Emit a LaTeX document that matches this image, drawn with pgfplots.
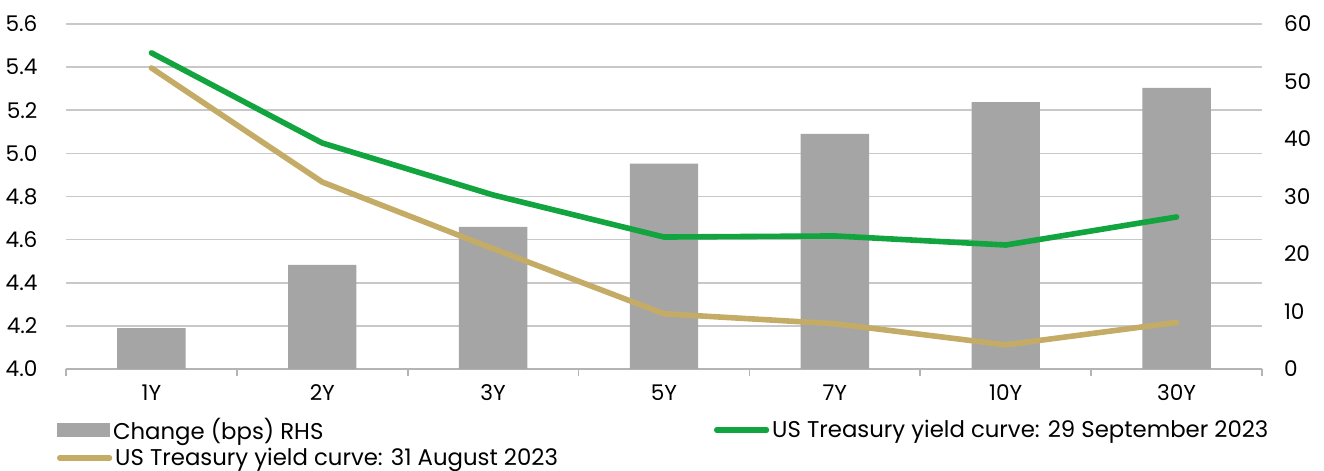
\documentclass[border=0pt]{standalone}
\usepackage{fontspec}
\setmainfont{Poppins}
\usepackage{pgfplots}
\pgfplotsset{compat=1.18}
\definecolor{barg}{HTML}{A5A5A5}
\definecolor{grn}{HTML}{12A43E}
\definecolor{tan}{HTML}{C4AC67}
\definecolor{gridc}{HTML}{C8C8C8}
\definecolor{axc}{HTML}{B4B4B4}
\pgfplotsset{
  common/.style={
    scale only axis, width=598pt, height=172.5pt,
    xmin=-0.5, xmax=6.5,
    tick label style={font=\fontsize{10.8}{12}\selectfont, text=black},
    /pgf/number format/assume math mode=true,
    legend style={draw=none, fill=none, inner sep=0pt, outer sep=0pt,
      font=\fontsize{11.4}{13}\selectfont,
      nodes={inner sep=1.5pt}},
    legend cell align=left,
  },
  linelegend/.style={legend image code/.code={\draw[line width=2.6pt, line cap=round,##1] (0pt,0pt) -- (25pt,0pt);}},
}
\begin{document}
\begin{tikzpicture}
% axis 1: left axis, grid, x axis
\begin{axis}[common,
  ymin=4, ymax=5.6,
  ytick={4.0,4.2,4.4,4.6,4.8,5.0,5.2,5.4,5.6},
  yticklabel style={/pgf/number format/.cd, fixed, fixed zerofill, precision=1, /tikz/.cd, xshift=-6.5pt},
  ymajorgrids, major grid style={gridc, line width=0.8pt},
  axis x line*=bottom, axis y line*=left,
  y axis line style={draw=none}, ytick style={draw=none},
  x axis line style={axc, line width=0.8pt},
  xtick={0,1,2,3,4,5,6},
  xticklabels={1Y,2Y,3Y,5Y,7Y,10Y,30Y},
  major x tick style={draw=none},
  minor xtick={-0.5,0.5,1.5,2.5,3.5,4.5,5.5,6.5},
  minor x tick style={axc, line width=0.8pt},
  tick align=outside, minor tick length=3.5pt,
  legend style={at={(-0.0075,-0.258)}, anchor=west},
]
\coordinate (o) at (rel axis cs:0,0);
\addlegendimage{linelegend, tan}
\addlegendentry{US Treasury yield curve: 31 August 2023}
\end{axis}
% axis 2: bars on right axis
\begin{axis}[common,
  ymin=0, ymax=60,
  ytick={0,10,20,30,40,50,60},
  axis y line*=right, axis x line=none,
  y axis line style={draw=none}, ytick style={draw=none},
  yticklabel style={xshift=7.5pt},
  xtick=\empty,
  legend style={at={(-0.0075,-0.1768)}, anchor=west},
  legend image code/.code={\fill[barg] (0pt,-3.5pt) rectangle (26.5pt,3.5pt);},
]
\addplot[ybar, bar width=34.2pt, fill=barg, draw=none] coordinates {
(0,7.1) (1,18.1) (2,24.7) (3,35.7) (4,40.9) (5,46.4) (6,48.9)};
\addlegendentry{Change (bps) RHS}
\end{axis}
% axis 3: lines on left scale
\begin{axis}[common,
  ymin=4, ymax=5.6, hide axis,
  legend style={at={(0.5418,-0.1768)}, anchor=west},
]
\addplot[grn, line width=2.8pt, line join=round, line cap=round, linelegend] coordinates {
(0,5.466) (1,5.048) (2,4.807) (3,4.612) (4,4.617) (5,4.575) (6,4.705)};
\addlegendentry{US Treasury yield curve: 29 September 2023}
\addplot[tan, line width=2.8pt, line join=round, line cap=round, forget plot] coordinates {
(0,5.396) (1,4.867) (2,4.558) (3,4.256) (4,4.210) (5,4.112) (6,4.216)};
\end{axis}
\pgfresetboundingbox
\path[use as bounding box] ([shift={(-33pt,-51pt)}]o) rectangle ([shift={(629pt,184.5pt)}]o);
\end{tikzpicture}
\end{document}
